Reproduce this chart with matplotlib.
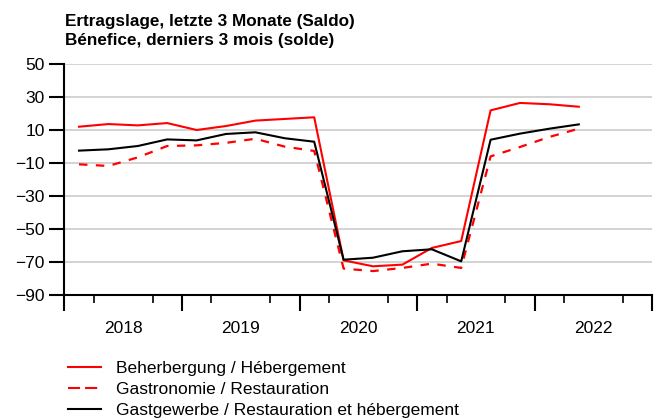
import matplotlib.pyplot as plt
from matplotlib.lines import Line2D

plt.rcParams['font.family'] = ['Liberation Sans', 'DejaVu Sans']

years = ['2018', '2019', '2020', '2021', '2022']
# quarterly values 2018 Q1 .. 2022 Q2
beherbergung = [12.0, 13.6, 12.8, 14.2, 10.0, 12.4, 15.7, 16.7, 17.7,
                -69.0, -72.6, -71.6, -61.5, -57.3, 21.9, 26.4, 25.6, 24.1]
gastronomie = [-10.8, -11.8, -6.6, 0.3, 0.7, 2.2, 4.7, -0.1, -2.7,
               -74.0, -75.5, -73.6, -71.0, -73.6, -6.0, -0.3, 5.8, 10.8]
gastgewerbe = [-2.5, -1.7, 0.3, 4.3, 3.7, 7.6, 8.6, 5.0, 2.9,
               -68.6, -67.4, -63.5, -62.3, -69.6, 4.1, 7.8, 10.8, 13.4]
labels = ['Beherbergung / Hébergement',
          'Gastronomie / Restauration',
          'Gastgewerbe / Restauration et hébergement']
yticks = [50, 30, 10, -10, -30, -50, -70, -90]

fig = plt.figure(figsize=(6.61, 4.18), dpi=100)
ax = fig.add_axes([64.3 / 661, 1 - 295 / 418, (652.3 - 64.3) / 661, (295 - 64) / 418])

x = [i + 0.5 for i in range(len(beherbergung))]
ax.plot(x, beherbergung, color='#ff0000', lw=1.5, zorder=3)
ax.plot(x, gastronomie, color='#ff0000', lw=1.6, dashes=(3.8, 3.8), zorder=3)
ax.plot(x, gastgewerbe, color='black', lw=1.5, zorder=4)

ax.set_ylim(-90, 50)
ax.set_xlim(0, 4 * len(years))
ax.set_yticks(yticks)
ax.grid(axis='y', color='#cccccc', lw=1.2, zorder=0)
ax.set_axisbelow(True)

for s in ['top', 'right']:
    ax.spines[s].set_visible(False)
for s in ['left', 'bottom']:
    ax.spines[s].set_linewidth(1.5)

ax.tick_params(axis='y', length=11, width=1.5, pad=3, labelsize=12.5)
# year labels in the middle of each year, no tick mark
ax.set_xticks([4 * i + 2 for i in range(len(years))])
ax.set_xticklabels(years)
ax.tick_params(axis='x', length=0, pad=18.5, labelsize=12.5)
ax.set_xticks(range(0, 4 * len(years) + 1), minor=True)
ax.tick_params(axis='x', which='minor', length=6, width=1.2)

sec = ax.secondary_xaxis('bottom')
sec.set_xticks(range(0, 4 * len(years) + 1, 4))
sec.set_xticklabels([])
sec.tick_params(length=11.5, width=1.5)
sec.spines['bottom'].set_visible(False)

fig.text(65 / 661, 1 - 14 / 418,
         'Ertragslage, letzte 3 Monate (Saldo)\nBénefice, derniers 3 mois (solde)',
         fontsize=12.3, fontweight='bold', va='top', ha='left', linespacing=1.3)

handles = [Line2D([], [], color='#ff0000', lw=1.5),
           Line2D([], [], color='#ff0000', lw=1.5, dashes=(5.8, 2.4)),
           Line2D([], [], color='black', lw=1.5)]
fig.legend(handles, labels, loc='upper left', bbox_to_anchor=(68 / 661, 1 - 361 / 418),
           frameon=False, fontsize=12.5, handlelength=1.9, handletextpad=0.85,
           labelspacing=0.33, borderpad=0, borderaxespad=0)

fig.savefig('out.png', dpi=100)
